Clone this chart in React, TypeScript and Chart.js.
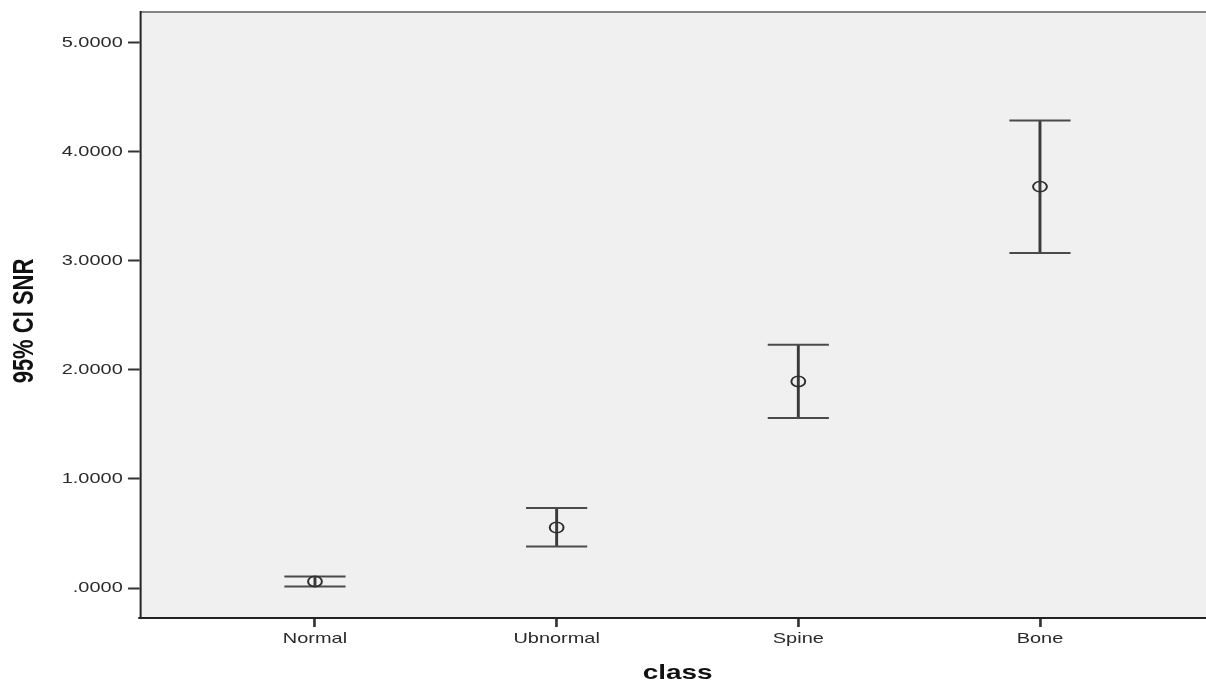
import { useEffect, useRef } from 'react';
import { Chart, registerables } from 'chart.js';

Chart.register(...registerables);

// Groups on the x axis and the 95% confidence interval of SNR for each group
const categories = ['Normal', 'Ubnormal', 'Spine', 'Bone'];
const means = [0.06, 0.555, 1.894, 3.681];
const lowerCI = [0.015, 0.381, 1.558, 3.071];
const upperCI = [0.106, 0.733, 2.23, 4.286];

const yTickValues = [0, 1, 2, 3, 4, 5];
const yTickLabels = ['.0000', '1.0000', '2.0000', '3.0000', '4.0000', '5.0000'];
const xTitle = 'class';
const yTitle = '95% CI SNR';

// The chart is laid out on a narrower logical width and drawn stretched
// horizontally onto the full-size canvas, giving the wide SPSS-style lettering.
const PAGE_W = 1206;
const PAGE_H = 680;
const LOGICAL_W = 907;
const SX = PAGE_W / LOGICAL_W;
const FONT = "'Liberation Sans', Arial, Helvetica, sans-serif";

const stretchPlugin = {
  id: 'stretch',
  beforeDraw(chart: any) {
    const c = chart.canvas as HTMLCanvasElement;
    if (c.width !== PAGE_W) c.width = PAGE_W;
    const ctx = chart.ctx as CanvasRenderingContext2D;
    ctx.setTransform(SX, 0, 0, 1, 0, 0);
    const { left, right, top, bottom } = chart.chartArea;
    ctx.save();
    ctx.fillStyle = '#f0f0f0';
    ctx.fillRect(left, top, right - left, bottom - top);
    ctx.strokeStyle = '#858585';
    ctx.lineWidth = 2;
    ctx.beginPath();
    ctx.moveTo(left, top);
    ctx.lineTo(right, top);
    ctx.stroke();
    ctx.restore();
  },
};

const errorBarPlugin = {
  id: 'errorBars',
  beforeDatasetsDraw(chart: any) {
    const ctx = chart.ctx as CanvasRenderingContext2D;
    const xs = chart.scales.x;
    const ys = chart.scales.y;
    const capHalf = 23;
    ctx.save();
    ctx.lineCap = 'butt';
    categories.forEach((_, i) => {
      const x = xs.getPixelForValue(i + 1);
      const yU = ys.getPixelForValue(upperCI[i]);
      const yL = ys.getPixelForValue(lowerCI[i]);
      ctx.strokeStyle = '#3a3a3a';
      ctx.lineWidth = 2.2;
      ctx.beginPath();
      ctx.moveTo(x, yU);
      ctx.lineTo(x, yL);
      ctx.stroke();
      ctx.strokeStyle = '#4a4a4a';
      ctx.lineWidth = 2;
      ctx.beginPath();
      ctx.moveTo(x - capHalf, yU);
      ctx.lineTo(x + capHalf, yU);
      ctx.moveTo(x - capHalf, yL);
      ctx.lineTo(x + capHalf, yL);
      ctx.stroke();
    });
    ctx.restore();
  },
};

const titlePlugin = {
  id: 'axisTitles',
  afterDraw(chart: any) {
    const ctx = chart.ctx as CanvasRenderingContext2D;
    const { left, right } = chart.chartArea;
    ctx.save();
    ctx.fillStyle = '#111';
    ctx.font = `bold 21px ${FONT}`;
    ctx.textAlign = 'center';
    ctx.textBaseline = 'alphabetic';
    ctx.fillText(xTitle, (left + right) / 2 + 3.5, 678.5);
    ctx.translate(25, 321);
    ctx.rotate(-Math.PI / 2);
    ctx.font = `bold 22px ${FONT}`;
    ctx.fillText(yTitle, 0, 0);
    ctx.restore();
  },
};

export default function App() {
  const canvasRef = useRef<HTMLCanvasElement | null>(null);

  useEffect(() => {
    document.body.style.margin = '0';
    const canvas = canvasRef.current;
    if (!canvas) return;
    const tickFont = { family: FONT, size: 15 };
    const chart = new Chart(canvas, {
      type: 'scatter',
      data: {
        datasets: [
          {
            label: 'Mean',
            data: means.map((m, i) => ({ x: i + 1, y: m })),
            pointStyle: 'circle',
            pointRadius: 5.2,
            pointBorderWidth: 1.5,
            pointBorderColor: '#2e2e2e',
            pointBackgroundColor: 'rgba(0,0,0,0)',
            showLine: false,
          },
        ],
      },
      options: {
        responsive: false,
        animation: false,
        events: [],
        layout: { autoPadding: false, padding: { top: 12, left: 0, right: 0, bottom: 0 } },
        plugins: {
          legend: { display: false },
          tooltip: { enabled: false },
          title: { display: false },
        },
        scales: {
          x: {
            type: 'linear',
            position: 'bottom',
            min: 0.276,
            max: 4.687,
            afterBuildTicks: (s: any) => {
              s.ticks = categories.map((_, i) => ({ value: i + 1 }));
            },
            afterFit: (s: any) => {
              s.height = 62;
              s.paddingLeft = 0;
              s.paddingRight = 0;
            },
            ticks: {
              callback: (v: any) => categories[Number(v) - 1] ?? '',
              font: tickFont,
              color: '#2a2a2a',
              padding: 3,
              maxRotation: 0,
              autoSkip: false,
            },
            grid: {
              display: true,
              drawOnChartArea: false,
              drawTicks: true,
              tickLength: 9,
              tickWidth: 2,
              tickColor: '#333',
            },
            border: { display: true, color: '#222', width: 2 },
          },
          y: {
            type: 'linear',
            min: -0.275,
            max: 5.282,
            afterBuildTicks: (s: any) => {
              s.ticks = yTickValues.map((v) => ({ value: v }));
            },
            afterFit: (s: any) => {
              s.width = 105.3;
              s.paddingTop = 0;
              s.paddingBottom = 0;
            },
            ticks: {
              callback: (v: any) => yTickLabels[yTickValues.indexOf(Number(v))] ?? '',
              font: tickFont,
              color: '#2a2a2a',
              padding: 4,
            },
            grid: {
              display: true,
              drawOnChartArea: false,
              drawTicks: true,
              tickLength: 9,
              tickWidth: 2,
              tickColor: '#333',
            },
            border: { display: true, color: '#222', width: 1.5 },
          },
        },
      },
      plugins: [stretchPlugin, errorBarPlugin, titlePlugin],
    });
    return () => chart.destroy();
  }, []);

  return (
    <div style={{ position: 'absolute', left: 0, top: 0, width: PAGE_W, height: PAGE_H }}>
      <canvas
        ref={canvasRef}
        width={LOGICAL_W}
        height={PAGE_H}
        style={{ display: 'block', width: `${PAGE_W}px`, height: `${PAGE_H}px` }}
      />
    </div>
  );
}
